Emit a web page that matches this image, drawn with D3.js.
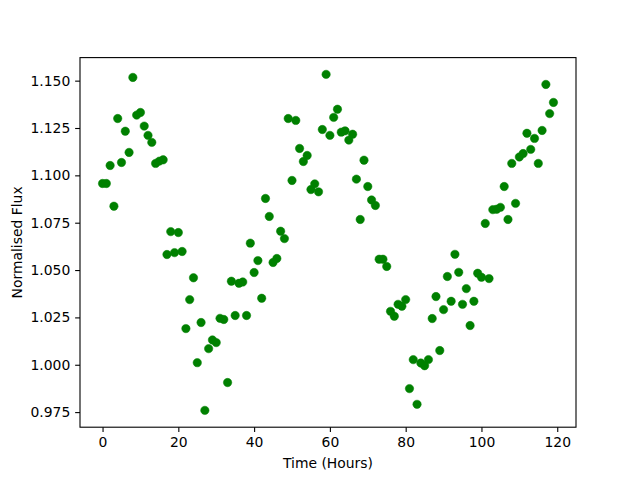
<!DOCTYPE html>
<html>
<head>
<meta charset="utf-8">
<script src="https://cdn.jsdelivr.net/npm/d3@7"></script>
<style>
  body { margin: 0; background: #fff; }
  svg { display: block; }
  text { font-family: "DejaVu Sans", sans-serif; fill: #000; }
</style>
</head>
<body>
<div id="chart"></div>
<script>
// observation times (hours)
const hours = [
  0, 1, 2, 3, 4, 5, 6, 7, 8, 9, 10, 11, 12, 13, 14, 15, 16, 17, 18, 19,
  20, 21, 22, 23, 24, 25, 26, 27, 28, 29, 30, 31, 32, 33, 34, 35, 36, 37, 38, 39,
  40, 41, 42, 43, 44, 45, 46, 47, 48, 49, 50, 51, 52, 53, 54, 55, 56, 57, 58, 59,
  60, 61, 62, 63, 64, 65, 66, 67, 68, 69, 70, 71, 72, 73, 74, 75, 76, 77, 78, 79,
  80, 81, 82, 83, 84, 85, 86, 87, 88, 89, 90, 91, 92, 93, 94, 95, 96, 97, 98, 99,
  100, 101, 102, 103, 104, 105, 106, 107, 108, 109, 110, 111, 112, 113, 114, 115, 116, 117, 118, 119
];

// normalised flux
const flux = [
  1.0957, 1.0957, 1.1052, 1.0837, 1.1300, 1.1068, 1.1233, 1.1121, 1.1517, 1.1318,
  1.1332, 1.1260, 1.1211, 1.1174, 1.1063, 1.1075, 1.1082, 1.0582, 1.0703, 1.0592,
  1.0698, 1.0598, 1.0191, 1.0344, 1.0459, 1.0011, 1.0223, 0.9759, 1.0085, 1.0131,
  1.0117, 1.0245, 1.0239, 0.9906, 1.0441, 1.0260, 1.0430, 1.0437, 1.0260, 1.0642,
  1.0487, 1.0550, 1.0351, 1.0878, 1.0783, 1.0540, 1.0561, 1.0705, 1.0666, 1.1300,
  1.0973, 1.1290, 1.1142, 1.1073, 1.1105, 1.0925, 1.0955, 1.0913, 1.1242, 1.1533,
  1.1211, 1.1306, 1.1349, 1.1228, 1.1235, 1.1186, 1.1217, 1.0980, 1.0767, 1.1080,
  1.0941, 1.0870, 1.0841, 1.0557, 1.0557, 1.0519, 1.0282, 1.0256, 1.0319, 1.0309,
  1.0344, 0.9874, 1.0027, 0.9791, 1.0009, 0.9995, 1.0027, 1.0244, 1.0360, 1.0075,
  1.0291, 1.0466, 1.0335, 1.0583, 1.0488, 1.0319, 1.0402, 1.0207, 1.0335, 1.0483,
  1.0462, 1.0746, 1.0455, 1.0819, 1.0821, 1.0831, 1.0941, 1.0767, 1.1063, 1.0852,
  1.1097, 1.1115, 1.1222, 1.1137, 1.1195, 1.1063, 1.1237, 1.1480, 1.1326, 1.1385
];

const xTicks = [0, 20, 40, 60, 80, 100, 120];
const yTicks = [0.975, 1.000, 1.025, 1.050, 1.075, 1.100, 1.125, 1.150];

const W = 640, H = 480;
const margin = { top: 57.6, right: 64, bottom: 52.8, left: 80 };
const width = W - margin.left - margin.right;
const height = H - margin.top - margin.bottom;

const points = hours.map((h, i) => ({ t: h, f: flux[i] }));

// matplotlib style 5% padding on the data range
function padded(ext) {
  const r = ext[1] - ext[0];
  return [ext[0] - 0.05 * r, ext[1] + 0.05 * r];
}

const x = d3.scaleLinear()
  .domain(padded(d3.extent(hours)))
  .range([0, width]);

const y = d3.scaleLinear()
  .domain(padded(d3.extent(flux)))
  .range([height, 0]);

const svg = d3.select("#chart").append("svg")
  .attr("width", W)
  .attr("height", H);

const g = svg.append("g")
  .attr("transform", "translate(" + margin.left + "," + margin.top + ")");

const tickLen = 4.86;
const fontPx = 13.9;

const xAxis = g.append("g")
  .attr("transform", "translate(0," + height + ")")
  .call(d3.axisBottom(x).tickValues(xTicks).tickFormat(d3.format("d"))
    .tickSize(tickLen).tickPadding(4.86).tickSizeOuter(0));

const yAxis = g.append("g")
  .call(d3.axisLeft(y).tickValues(yTicks).tickFormat(d3.format(".3f"))
    .tickSize(tickLen).tickPadding(4.86).tickSizeOuter(0));

[xAxis, yAxis].forEach(a => {
  a.select(".domain").remove();
  a.selectAll(".tick line").attr("stroke", "#000").attr("stroke-width", 1.1);
  a.selectAll(".tick text")
    .style("font-family", "'DejaVu Sans', sans-serif")
    .style("font-size", fontPx + "px")
    .attr("fill", "#000");
});

// scatter points
g.append("g")
  .selectAll("circle")
  .data(points)
  .enter().append("circle")
  .attr("cx", d => x(d.t))
  .attr("cy", d => y(d.f))
  .attr("r", 4.2)
  .attr("fill", "#008000")
  .attr("stroke", "#008000")
  .attr("stroke-width", 0.5);

// spines
g.append("rect")
  .attr("width", width)
  .attr("height", height)
  .attr("fill", "none")
  .attr("stroke", "#000")
  .attr("stroke-width", 1.1);

svg.append("text")
  .attr("x", margin.left + width / 2)
  .attr("y", 468)
  .attr("text-anchor", "middle")
  .style("font-size", fontPx + "px")
  .text("Time (Hours)");

svg.append("text")
  .attr("transform", "translate(22," + (margin.top + height / 2) + ") rotate(-90)")
  .attr("text-anchor", "middle")
  .style("font-size", fontPx + "px")
  .text("Normalised Flux");
</script>
</body>
</html>
